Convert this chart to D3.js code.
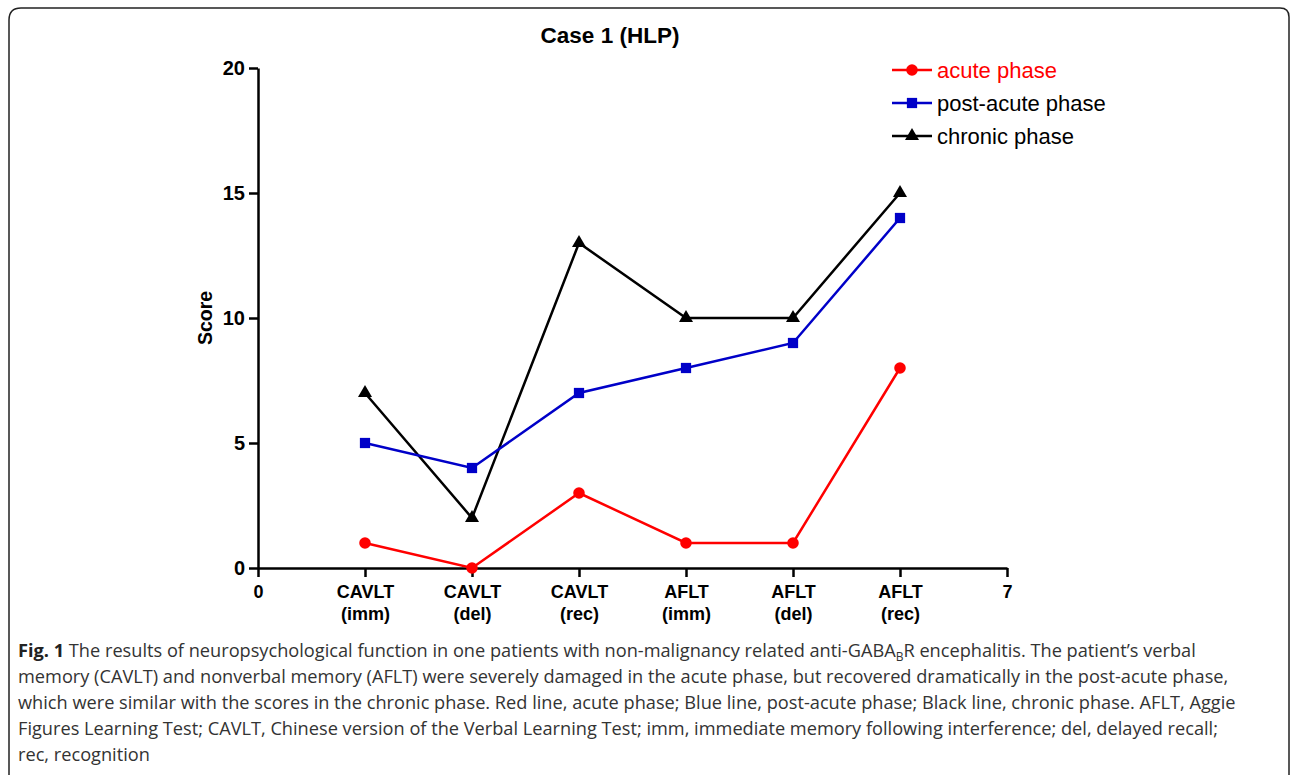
<!DOCTYPE html>
<html>
<head>
<meta charset="utf-8">
<script src="https://cdn.jsdelivr.net/npm/d3@7"></script>
<style>
  body { margin: 0; background: #fff; }
  svg text { font-family: Arial, "Liberation Sans", sans-serif; }
  .caption { font-family: "Open Sans", sans-serif; font-size: 18.2px; fill: #333; }
</style>
</head>
<body>
<svg id="chart" width="1292" height="776"></svg>
<script>
// data
var categories = ["CAVLT\n(imm)", "CAVLT\n(del)", "CAVLT\n(rec)", "AFLT\n(imm)", "AFLT\n(del)", "AFLT\n(rec)"];
var seriesNames = ["acute phase", "post-acute phase", "chronic phase"];
var acute = [1, 0, 3, 1, 1, 8];
var postAcute = [5, 4, 7, 8, 9, 14];
var chronic = [7, 2, 13, 10, 10, 15];
var yTicks = [0, 5, 10, 15, 20];
var colors = ["#ff0000", "#0000c8", "#000000"];
var symbols = [d3.symbolCircle, d3.symbolSquare, d3.symbolTriangle];

var captionLines = [
  [{t: "Fig. 1", b: true}, {t: " The results of neuropsychological function in one patients with non-malignancy related anti-GABA"}, {t: "B", sub: true}, {t: "R encephalitis. The patient\u2019s verbal", after: true}],
  [{t: "memory (CAVLT) and nonverbal memory (AFLT) were severely damaged in the acute phase, but recovered dramatically in the post-acute phase,"}],
  [{t: "which were similar with the scores in the chronic phase. Red line, acute phase; Blue line, post-acute phase; Black line, chronic phase. AFLT, Aggie"}],
  [{t: "Figures Learning Test; CAVLT, Chinese version of the Verbal Learning Test; imm, immediate memory following interference; del, delayed recall;"}],
  [{t: "rec, recognition"}]
];

var svg = d3.select("#chart");

// frame
svg.append("path")
  .attr("d", "M9,775 L9,20 Q9,8 21,8 L1280,8 Q1289,8 1289,17 L1289,775")
  .attr("fill", "none")
  .attr("stroke", "#222")
  .attr("stroke-width", 1.5);

var x = d3.scaleLinear().domain([0, 7]).range([258, 1007]);
var y = d3.scaleLinear().domain([0, 20]).range([568, 68]);

// title
svg.append("text")
  .attr("x", 610).attr("y", 43)
  .attr("text-anchor", "middle")
  .style("font-size", "22.5px").style("font-weight", "bold")
  .text("Case 1 (HLP)");

// y axis
var yAxis = svg.append("g")
  .attr("transform", "translate(" + x(0) + ",0)")
  .call(d3.axisLeft(y).tickValues(yTicks).tickSize(9).tickPadding(4).tickSizeOuter(0));
yAxis.select(".domain").attr("stroke-width", 2.5);
yAxis.selectAll(".tick line").attr("stroke-width", 2.5);
yAxis.selectAll(".tick text")
  .style("font-size", "20px").style("font-weight", "bold").style("font-family", "Arial")
  .attr("fill", "#000");

// x axis
var xAxis = svg.append("g")
  .attr("transform", "translate(0," + y(0) + ")")
  .call(d3.axisBottom(x).tickValues([0, 1, 2, 3, 4, 5, 6, 7]).tickSize(9).tickSizeOuter(0)
    .tickFormat(function(d) { return ""; }));
xAxis.select(".domain").attr("stroke-width", 2.5);
xAxis.selectAll(".tick line").attr("stroke-width", 2.5);
xAxis.selectAll(".tick text").each(function(d) {
  var t = d3.select(this);
  t.attr("y", 0).attr("dy", null);
  var label = (d === 0 || d === 7) ? String(d) : categories[d - 1];
  label.split("\n").forEach(function(s, i) {
    t.append("tspan").attr("x", 0).attr("y", 30 + i * 22).text(s);
  });
})
  .style("font-size", "18px").style("font-weight", "bold").style("font-family", "Arial")
  .attr("fill", "#000");

// y label
svg.append("text")
  .attr("transform", "translate(212," + y(10) + ") rotate(-90)")
  .attr("text-anchor", "middle")
  .style("font-size", "19.5px").style("font-weight", "bold")
  .text("Score");

// series
var allSeries = [acute, postAcute, chronic];
var line = d3.line()
  .x(function(d, i) { return x(i + 1); })
  .y(function(d) { return y(d); });

var drawOrder = [2, 1, 0];
drawOrder.forEach(function(k) {
  svg.append("path")
    .datum(allSeries[k])
    .attr("fill", "none")
    .attr("stroke", colors[k])
    .attr("stroke-width", 2.5)
    .attr("d", line);
});
drawOrder.forEach(function(k) {
  svg.selectAll(".pt" + k)
    .data(allSeries[k])
    .enter().append("path")
    .attr("class", "pt" + k)
    .attr("transform", function(d, i) { return "translate(" + x(i + 1) + "," + y(d) + ")"; })
    .attr("d", d3.symbol().type(symbols[k]).size(k === 2 ? 85 : 105))
    .attr("fill", colors[k]);
});

// legend
var legend = svg.append("g").attr("transform", "translate(892,70)");
seriesNames.forEach(function(name, k) {
  var g = legend.append("g").attr("transform", "translate(0," + (k * 33) + ")");
  g.append("line").attr("x1", 0).attr("x2", 40).attr("y1", 0).attr("y2", 0)
    .attr("stroke", colors[k]).attr("stroke-width", 2.5);
  g.append("path").attr("transform", "translate(20,0)")
    .attr("d", d3.symbol().type(symbols[k]).size(k === 2 ? 85 : 105))
    .attr("fill", colors[k]);
  g.append("text").attr("x", 45).attr("y", 8)
    .style("font-size", "22px")
    .attr("fill", k === 0 ? colors[0] : "#000")
    .text(name);
});

// caption
captionLines.forEach(function(parts, i) {
  var t = svg.append("text").attr("class", "caption")
    .attr("x", 18).attr("y", 657 + i * 26);
  parts.forEach(function(p) {
    var s = t.append("tspan").text(p.t);
    if (p.b) s.style("font-weight", "bold").attr("fill", "#222");
    if (p.sub) s.style("font-size", "12px").attr("dy", 4);
    if (p.after) s.attr("dy", -4);
  });
});
</script>
</body>
</html>
